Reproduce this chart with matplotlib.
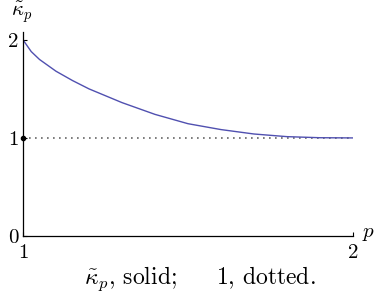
import matplotlib
matplotlib.use('Agg')
import matplotlib.pyplot as plt

# values
p_vals = [1.0, 1.025, 1.05, 1.1, 1.15, 1.2, 1.3, 1.4, 1.5, 1.6, 1.7, 1.8, 1.9, 2.0]
kappa_vals = [2.0, 1.88, 1.80, 1.68, 1.585, 1.50, 1.36, 1.24, 1.145, 1.085, 1.04, 1.013, 1.002, 1.0]
dotted_x = [1.0, 2.0]
dotted_y = [1.0, 1.0]
xticks = [1, 2]
yticks = [0, 1, 2]

plt.rcParams['font.family'] = 'serif'
plt.rcParams['font.serif'] = ['cmr10']
plt.rcParams['mathtext.fontset'] = 'cm'
plt.rcParams['axes.formatter.use_mathtext'] = True

fig = plt.figure(figsize=(3.74, 3.03), dpi=100)
ax = fig.add_axes([23/374, 1-236/303, 330/374, 204/303])

ax.plot(dotted_x, dotted_y, color='#666666', lw=1.2, linestyle=(0, (1, 2.6)))
ax.plot(p_vals, kappa_vals, color='#5050b0', lw=1)
ax.plot([1], [1], 'o', color='black', ms=3, clip_on=False)

ax.set_xlim(1, 2)
ax.set_ylim(0, 2.08)
for s in ['top', 'right']:
    ax.spines[s].set_visible(False)
for s in ['left', 'bottom']:
    ax.spines[s].set_linewidth(0.9)

ax.set_xticks(xticks)
ax.set_xticklabels([str(t) for t in xticks])
ax.set_yticks(yticks)
ax.set_yticklabels([str(t) for t in yticks])
ax.tick_params(direction='in', length=3, width=0.8, labelsize=15)
ax.tick_params(axis='x', pad=6)
ax.tick_params(axis='y', pad=3)

fig.text(22/374, 1-12/303, r'$\tilde{\kappa}_p$', fontsize=15, ha='center', va='center')
fig.text(369/374, 1-237/303, r'$p$', fontsize=15, ha='center', va='baseline')
fig.text(200/374, 1-284/303, r'$\tilde{\kappa}_p$, solid;     1, dotted.', fontsize=17,
         ha='center', va='baseline')

fig.savefig('out.png', dpi=100)
